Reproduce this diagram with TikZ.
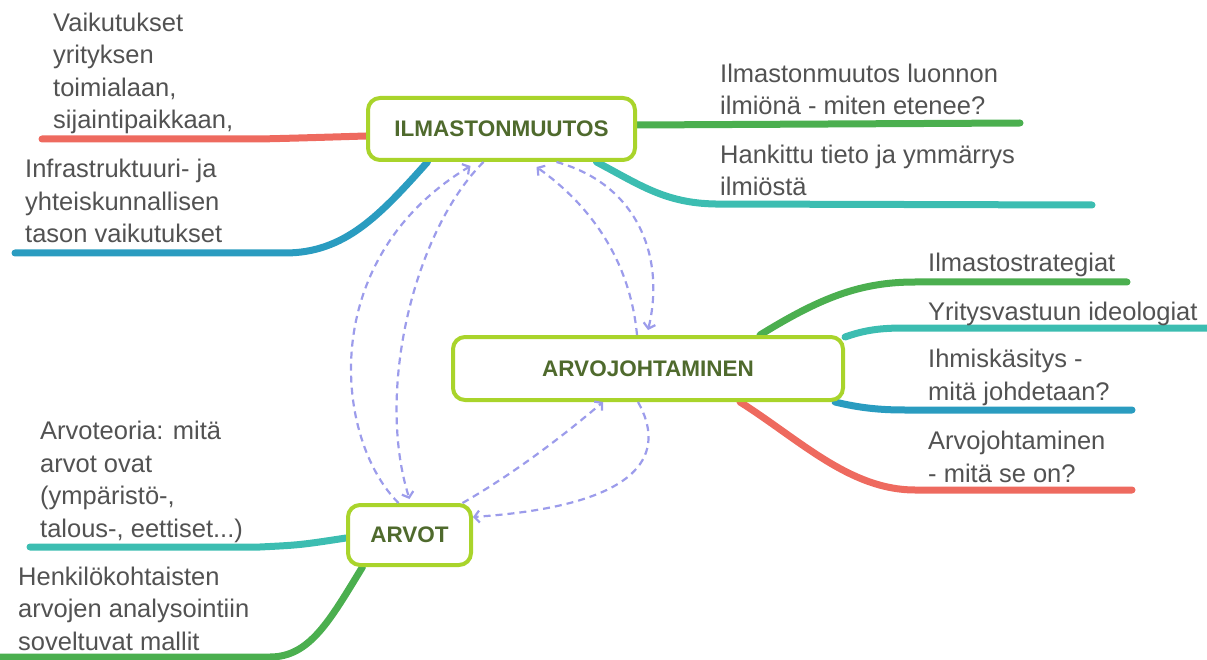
\documentclass[tikz,border=0pt]{standalone}
\usepackage{fontspec}
\setmainfont{Liberation Sans}
\usetikzlibrary{arrows.meta, backgrounds}
\definecolor{limeedge}{HTML}{A9D42B}
\definecolor{boxtext}{HTML}{4F6A2D}
\definecolor{leaftext}{HTML}{525252}
\definecolor{redbranch}{HTML}{EE6A5F}
\definecolor{bluebranch}{HTML}{2A9CC0}
\definecolor{greenbranch}{HTML}{4BAF4F}
\definecolor{tealbranch}{HTML}{3CBDB1}
\definecolor{linkcolor}{HTML}{9C9CEB}

\begin{document}
\begin{tikzpicture}[x = 1pt, y = -1pt,
                        topic/.style = {draw = limeedge, line width = 4pt, rounded corners = 12pt, fill = white, text = boxtext, font = \bfseries\fontsize{22.5}{26}\selectfont, inner sep = 0pt},
                        leaf/.style = {anchor = base west, align = left, inner sep = 0pt, text = leaftext, font = \fontsize{25.5}{32.5}\selectfont},
                        branch/.style = {line width = 7pt, line cap = round},
                        link/.style = {draw = linkcolor, line width = 2.2pt, dash pattern = on 7pt off 5pt, -{Straight Barb[length = 5pt, width = 12pt]}}]
      \useasboundingbox (0, 0) rectangle (1207, 660);
      \node [topic, minimum width = 267pt, minimum height = 62pt] (ilm) at (501.5, 129){ILMASTONMUUTOS};
      \node [topic, minimum width = 390pt, minimum height = 63pt] (arvojoh) at (648, 368.5){ARVOJOHTAMINEN};
      \node [topic, minimum width = 123pt, minimum height = 60pt] (arvot) at (409.5, 535){ARVOT};
      \node [leaf] (vaikT) at (53, 129){Vaikutukset\\yrityksen\\toimialaan,\\sijaintipaikkaan,};
      \node [leaf] (infraT) at (25, 243){Infrastruktuuri- ja\\yhteiskunnallisen\\tason vaikutukset};
      \node [leaf] (ilmT) at (720, 115){Ilmastonmuutos luonnon\\ilmiönä - miten etenee?};
      \node [leaf] (hankT) at (720, 196){Hankittu tieto ja ymmärrys\\ilmiöstä};
      \node [leaf] (strT) at (928, 272){Ilmastostrategiat};
      \node [leaf] (yritT) at (928, 320){Yritysvastuun ideologiat};
      \node [leaf] (ihmT) at (928, 400){Ihmiskäsitys -\\mitä johdetaan?};
      \node [leaf] (arvjT) at (928, 482){Arvojohtaminen\\- mitä se on?};
      \node [leaf] (arvtT) at (40, 537){Arvoteoria: mitä\\arvot ovat\\(ympäristö-,\\talous-, eettiset...)};
      \node [leaf] (henkT) at (18, 650){Henkilökohtaisten\\arvojen analysointiin\\soveltuvat mallit};
      \coordinate (vaikE) at (42, 139);
      \coordinate (infraE) at (15, 253);
      \coordinate (ilmE) at (1020, 123);
      \coordinate (hankE) at (1092, 205);
      \coordinate (strE) at (1127, 282);
      \coordinate (yritE) at (1210, 328);
      \coordinate (ihmE) at (1132, 410);
      \coordinate (arvjE) at (1132, 490);
      \coordinate (arvtE) at (30, 547);
      \coordinate (henkE) at (-5, 657);
      \begin{scope}[on background layer]
      \draw [branch, redbranch] ([yshift = -7pt]ilm.west) .. controls (300, 138) .. (260, 139) -- (vaikE);
      \draw [branch, bluebranch] ([xshift = -74pt]ilm.south) .. controls (380, 215) and (345, 253) .. (285, 253) -- (infraE);
      \draw [branch, greenbranch] ([yshift = 4pt]ilm.east) -- (ilmE);
      \draw [branch, tealbranch] ([xshift = 95pt]ilm.south) .. controls (640, 185) and (665, 203) .. (715, 204) -- (hankE);
      \draw [branch, greenbranch] ([xshift = 112pt]arvojoh.north) .. controls (820, 298) and (860, 282) .. (915, 282) -- (strE);
      \draw [branch, tealbranch] ([yshift = -2pt]arvojoh.north east) .. controls (865, 330) and (880, 328) .. (905, 328) -- (yritE);
      \draw [branch, bluebranch] ([xshift = -10pt]arvojoh.south east) .. controls (860, 408) and (880, 410) .. (905, 410) -- (ihmE);
      \draw [branch, redbranch] ([xshift = 92pt]arvojoh.south) .. controls (800, 440) and (850, 490) .. (915, 490) -- (arvjE);
      \draw [branch, tealbranch] ([yshift = -3pt]arvot.west) .. controls (300, 545) .. (260, 547) -- (arvtE);
      \draw [branch, greenbranch] ([xshift = -47pt]arvot.south) .. controls (330, 620) and (310, 657) .. (270, 657) -- (henkE);
      \end{scope}
      \draw [link] ([xshift = -11pt]arvot.north) .. controls (335, 440) and (315, 260) .. ([xshift = -31pt, yshift = -4pt]ilm.south);
      \draw [link] ([xshift = -18pt]ilm.south) .. controls (415, 230) and (375, 390) .. ([yshift = 4pt]arvot.north);
      \draw [link] ([xshift = -11pt]arvojoh.north) .. controls (630, 260) and (590, 205) .. ([xshift = 35pt, yshift = -5pt]ilm.south);
      \draw [link] ([xshift = 55pt]ilm.south) .. controls (640, 185) and (665, 260) .. ([yshift = 5pt]arvojoh.north);
      \draw [link] ([xshift = 53pt]arvot.north) .. controls (520, 470) and (570, 430) .. ([xshift = -45pt]arvojoh.south);
      \draw [link] ([xshift = -10pt]arvojoh.south) .. controls (665, 450) and (650, 505) .. ([yshift = 18pt]arvot.east);
    \end{tikzpicture}
\end{document}
